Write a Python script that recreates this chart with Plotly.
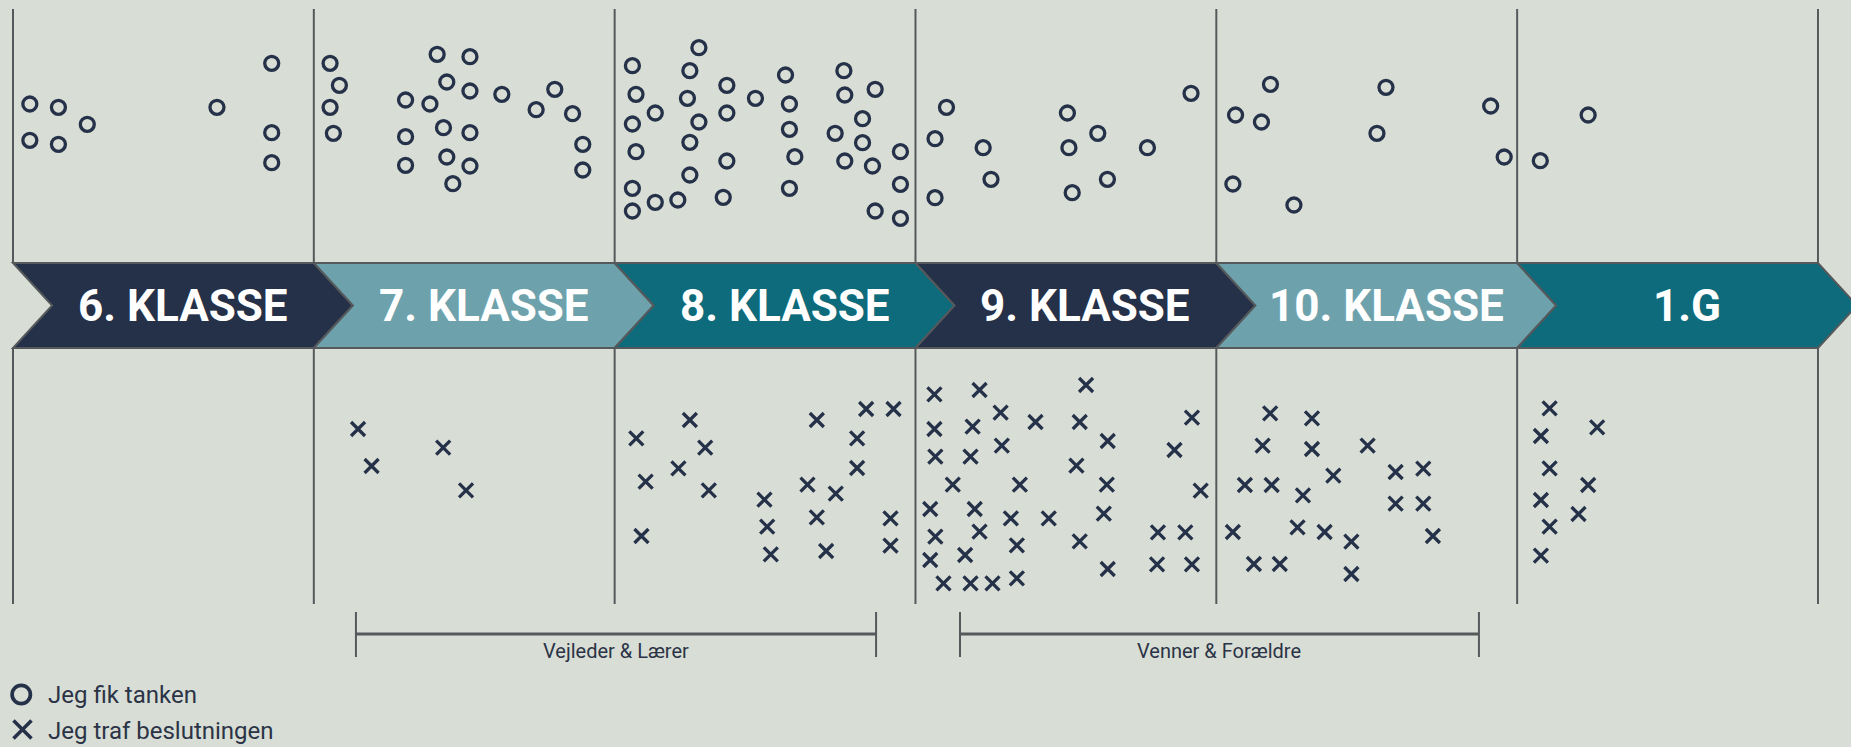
import plotly.graph_objects as go

# ---------------- data ----------------
grades = ["6. KLASSE", "7. KLASSE", "8. KLASSE", "9. KLASSE", "10. KLASSE", "1.G"]
grade_colors = ["#253149", "#6DA2AD", "#0E6B7B", "#253149", "#6DA2AD", "#0E6B7B"]

# "Jeg fik tanken" (circles) – x in grade units (0 = start of 6. klasse), y = height above the band
thought_x = [0.056, 0.151, 0.056, 0.151, 0.247, 0.678, 0.860, 0.860, 0.860,
             1.054, 1.085, 1.054, 1.065, 1.410, 1.519, 1.442, 1.519, 1.305, 1.386, 1.625,
             1.431, 1.519, 1.305, 1.442, 1.519, 1.305, 1.462, 1.801, 1.739, 1.860, 1.894, 1.894,
             2.280, 2.059, 2.250, 2.071, 2.242, 2.373, 2.135, 2.059, 2.280, 2.373, 2.468, 2.568,
             2.581, 2.762, 2.765, 2.866, 2.071, 2.250, 2.581, 2.824, 2.733, 2.824, 2.599, 2.373,
             2.765, 2.857, 2.950, 2.250, 2.059, 2.135, 2.210, 2.059, 2.361, 2.581, 2.950, 2.866, 2.950,
             3.103, 3.065, 3.225, 3.251, 3.065, 3.505, 3.606, 3.510, 3.638, 3.521, 3.771, 3.916,
             4.064, 4.150, 4.180, 4.055, 4.258, 4.564, 4.534, 4.912, 4.957,
             5.077, 5.236]
thought_y = [2.015, 1.982, 1.652, 1.612, 1.812, 1.982, 2.422, 1.728, 1.428,
             2.422, 2.202, 1.982, 1.722, 2.512, 2.488, 2.235, 2.145, 2.055, 2.015, 2.112,
             1.778, 1.728, 1.688, 1.485, 1.395, 1.402, 1.218, 2.162, 1.958, 1.918, 1.612, 1.355,
             2.578, 2.398, 2.348, 2.112, 2.072, 2.202, 1.925, 1.815, 1.835, 1.925, 2.072, 2.305,
             2.015, 2.348, 2.105, 2.162, 1.538, 1.632, 1.762, 1.868, 1.722, 1.628, 1.488, 1.445,
             1.445, 1.395, 1.538, 1.305, 1.172, 1.032, 1.055, 0.945, 1.082, 1.172, 1.212, 0.945, 0.872,
             1.982, 1.668, 1.578, 1.262, 1.078, 1.925, 1.722, 1.578, 1.262, 1.128, 1.578, 2.122,
             1.905, 1.835, 2.212, 1.215, 1.005, 2.182, 1.722, 1.995, 1.485,
             1.448, 1.905]

# "Jeg traf beslutningen" (crosses) – y = depth below the band
decision_x = [1.147, 1.192, 1.430, 1.506,
              2.072, 2.250, 2.301, 2.212, 2.103, 2.313, 2.089, 2.498, 2.507, 2.519, 2.672,
              2.641, 2.735, 2.672, 2.703, 2.836, 2.927, 2.806, 2.806, 2.917, 2.917,
              3.063, 3.213, 3.567, 3.063, 3.190, 3.283, 3.399, 3.546, 3.639, 3.066, 3.183,
              3.287, 3.535, 3.919, 3.861, 3.124, 3.347, 3.636, 3.948, 3.049, 3.197, 3.317,
              3.443, 3.626, 3.066, 3.213, 3.337, 3.546, 3.806, 3.897, 3.049, 3.165, 3.093,
              3.183, 3.256, 3.337, 3.639, 3.803, 3.919,
              4.179, 4.318, 4.154, 4.318, 4.503, 4.389, 4.095, 4.184, 4.288, 4.596, 4.688,
              4.596, 4.688, 4.055, 4.270, 4.360, 4.449, 4.720, 4.125, 4.211, 4.449,
              5.108, 5.266, 5.079, 5.108, 5.236, 5.079, 5.204, 5.108, 5.079]
decision_y = [-1.235, -1.605, -1.422, -1.848,
              -1.328, -1.145, -1.422, -1.628, -1.762, -1.848, -2.305, -1.942, -2.212, -2.488, -1.145,
              -1.792, -1.882, -2.118, -2.455, -1.035, -1.035, -1.328, -1.625, -2.128, -2.402,
              -0.888, -0.845, -0.795, -1.235, -1.212, -1.072, -1.165, -1.165, -1.355, -1.512, -1.512,
              -1.402, -1.602, -1.122, -1.445, -1.792, -1.792, -1.792, -1.852, -2.035, -2.035, -2.128,
              -2.128, -2.082, -2.312, -2.262, -2.398, -2.358, -2.268, -2.268, -2.545, -2.495, -2.778,
              -2.778, -2.778, -2.728, -2.635, -2.588, -2.588,
              -1.078, -1.128, -1.402, -1.435, -1.402, -1.702, -1.795, -1.795, -1.898, -1.665, -1.632,
              -1.982, -1.982, -2.265, -2.218, -2.265, -2.362, -2.305, -2.585, -2.585, -2.685,
              -1.028, -1.218, -1.305, -1.628, -1.795, -1.945, -2.085, -2.212, -2.502]

influence_labels = ["Vejleder & Lærer", "Venner & Forældre"]
influence_start = [1.140, 3.148]
influence_end = [2.869, 4.873]

legend_labels = ["Jeg fik tanken", "Jeg traf beslutningen"]

# ---------------- style ----------------
W, H = 1851, 747
BG = "#D8DED5"
NAVY = "#253149"
GREY = "#56595C"
TEXT = "#2B3346"
BAND = 0.425      # half height of the arrow band
NOTCH = 0.13      # chevron depth
LINE_TOP = 2.965
LINE_BOT = -2.985

fig = go.Figure()

fig.add_trace(go.Scatter(
    x=thought_x, y=thought_y, mode="markers", name=legend_labels[0],
    marker=dict(symbol="circle-open", size=14, color=NAVY, line=dict(width=3.3, color=NAVY)),
    hoverinfo="skip", showlegend=False))
fig.add_trace(go.Scatter(
    x=decision_x, y=decision_y, mode="markers", name=legend_labels[1],
    marker=dict(symbol="x-thin-open", size=14, color=NAVY, line=dict(width=3.3, color=NAVY)),
    hoverinfo="skip", showlegend=False))

shapes = []
annotations = []
for k, (g, c) in enumerate(zip(grades, grade_colors)):
    path = (f"M {k},{BAND} L {k+1},{BAND} L {k+1+NOTCH},0 L {k+1},{-BAND} "
            f"L {k},{-BAND} L {k+NOTCH},0 Z")
    shapes.append(dict(type="path", path=path, xref="x", yref="y", fillcolor=c,
                       line=dict(color=GREY, width=2), layer="below"))
    annotations.append(dict(x=k + 0.5 + NOTCH / 2, y=0, xref="x", yref="y", text=g,
                            showarrow=False, xanchor="center", yanchor="middle",
                            font=dict(family="Roboto", size=44, color="white", weight="bold")))

for k in range(len(grades) + 1):
    shapes.append(dict(type="line", xref="x", yref="y", x0=k, x1=k, y0=BAND, y1=LINE_TOP,
                       line=dict(color=GREY, width=2), layer="below"))
    shapes.append(dict(type="line", xref="x", yref="y", x0=k, x1=k, y0=-BAND, y1=LINE_BOT,
                       line=dict(color=GREY, width=2), layer="below"))

for lab, s, e in zip(influence_labels, influence_start, influence_end):
    shapes.append(dict(type="line", xref="x", yref="y", x0=s, x1=e, y0=-3.285, y1=-3.285,
                       line=dict(color=GREY, width=3)))
    for xx in (s, e):
        shapes.append(dict(type="line", xref="x", yref="y", x0=xx, x1=xx, y0=-3.065, y1=-3.515,
                           line=dict(color=GREY, width=2)))
    annotations.append(dict(x=(s + e) / 2, y=-3.45, xref="x", yref="y", text=lab,
                            showarrow=False, xanchor="center", yanchor="middle",
                            font=dict(family="Roboto", size=20, color=TEXT)))


# ---- manual legend (paper coordinates from pixel positions) ----
def px(x):
    return x / W


def py(y):
    return 1 - y / H


shapes.append(dict(type="circle", xref="paper", yref="paper",
                   x0=px(12.1), x1=px(30.4), y0=py(703.7), y1=py(685.3),
                   line=dict(color=NAVY, width=3.7)))
shapes.append(dict(type="line", xref="paper", yref="paper",
                   x0=px(13.5), y0=py(720.5), x1=px(31.5), y1=py(738.5),
                   line=dict(color=NAVY, width=3.6)))
shapes.append(dict(type="line", xref="paper", yref="paper",
                   x0=px(13.5), y0=py(738.5), x1=px(31.5), y1=py(720.5),
                   line=dict(color=NAVY, width=3.6)))
for lab, yy in zip(legend_labels, [694.5, 730.5]):
    annotations.append(dict(x=px(46), y=py(yy), xref="paper", yref="paper", text=lab,
                            showarrow=False, xanchor="left", yanchor="middle",
                            font=dict(family="Roboto", size=24, color=TEXT)))

fig.update_layout(
    width=W, height=H,
    margin=dict(l=0, r=0, t=0, b=0),
    paper_bgcolor=BG, plot_bgcolor=BG,
    shapes=shapes, annotations=annotations,
    xaxis=dict(range=[-0.0432, 6.1098], visible=False, fixedrange=True),
    yaxis=dict(range=[-4.415, 3.055], visible=False, fixedrange=True),
    showlegend=False,
)

fig.write_html("out.html", config={"displayModeBar": False},
               post_script="document.body.style.margin='0';document.body.style.overflow='hidden';")
